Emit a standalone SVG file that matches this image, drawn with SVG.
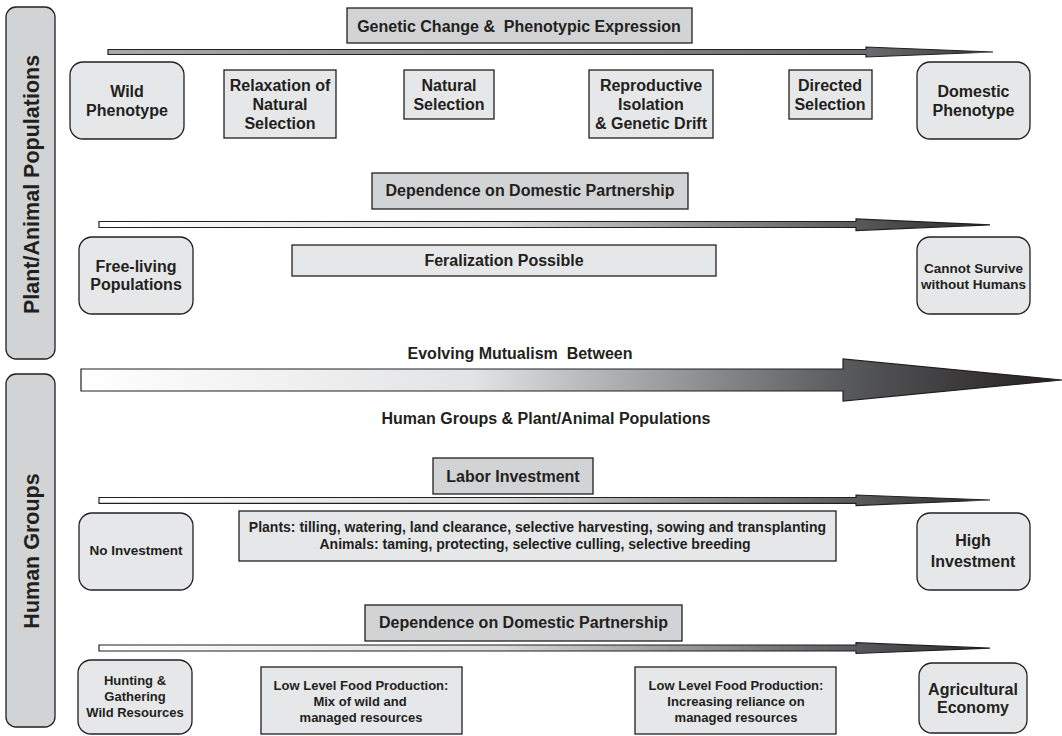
<svg xmlns="http://www.w3.org/2000/svg" width="1062" height="736" viewBox="0 0 1062 736">
  <defs>
    <style>
      text { font-family: "Liberation Sans", Arial, sans-serif; font-weight: bold; fill: #231f20; text-anchor: middle; white-space: pre; }
      .t16 { font-size: 16px; }
      .t14 { font-size: 14px; }
      .t13 { font-size: 13px; }
      .t135 { font-size: 13.5px; }
      .side { font-size: 21.5px; }
      .bar { fill: #d1d3d4; stroke: #231f20; stroke-width: 1.3; }
      .head { fill: #d1d3d4; stroke: #231f20; stroke-width: 1.3; }
      .box { fill: #e6e7e8; stroke: #231f20; stroke-width: 1.3; }
      .arrow { stroke: #231f20; stroke-width: 1.2; stroke-linejoin: miter; }
    </style>
    <linearGradient id="gradTop" gradientUnits="userSpaceOnUse" x1="108" y1="0" x2="993" y2="0">
      <stop offset="0" stop-color="#a7a9ac"/>
      <stop offset="0.85" stop-color="#6d6e71"/>
      <stop offset="1" stop-color="#3a3a3a"/>
    </linearGradient>
    <linearGradient id="gradThin" gradientUnits="userSpaceOnUse" x1="99" y1="0" x2="990" y2="0">
      <stop offset="0" stop-color="#ffffff"/>
      <stop offset="0.45" stop-color="#d9dadb"/>
      <stop offset="0.85" stop-color="#58595b"/>
      <stop offset="1" stop-color="#2b2b2b"/>
    </linearGradient>
    <linearGradient id="gradBig" gradientUnits="userSpaceOnUse" x1="81" y1="0" x2="1062" y2="0">
      <stop offset="0" stop-color="#ffffff"/>
      <stop offset="0.4" stop-color="#e2e3e4"/>
      <stop offset="0.78" stop-color="#58595b"/>
      <stop offset="1" stop-color="#231f20"/>
    </linearGradient>
  </defs>

  <rect width="1062" height="736" fill="#ffffff"/>

  <!-- side category bars -->
  <g id="side-plant-animal">
    <rect class="bar" x="6" y="7" width="49" height="352" rx="10"/>
    <text class="side" transform="translate(39,184.5) rotate(-90)">Plant/Animal Populations</text>
  </g>
  <g id="side-human">
    <rect class="bar" x="6" y="374" width="49" height="353" rx="10"/>
    <text class="side" transform="translate(39,551) rotate(-90)">Human Groups</text>
  </g>

  <!-- connectors: gradient arrows -->
  <g id="connectors">
    <polygon class="arrow" fill="url(#gradTop)" points="108,49.5 866,49.5 866,47 993,52 866,57 866,54.5 108,54.5"/>
    <polygon class="arrow" fill="url(#gradThin)" points="99,221.5 856,221.5 856,219 990,224.8 856,230.5 856,227.5 99,227.5"/>
    <polygon class="arrow" fill="url(#gradBig)" points="81,369 843,369 843,359 1062,380 843,401 843,391 81,391"/>
    <polygon class="arrow" fill="url(#gradThin)" points="99,497.5 856,497.5 856,495 990,500 856,505.5 856,503.3 99,503.3"/>
    <polygon class="arrow" fill="url(#gradThin)" points="99,645 856,645 856,642.7 990,648.2 856,653.5 856,651 99,651"/>
  </g>

  <!-- row 1: genetic change -->
  <g id="hdr-genetic">
    <rect class="head" x="347" y="8" width="345" height="35"/>
    <text class="t16" x="519" y="31.5">Genetic Change &amp;  Phenotypic Expression</text>
  </g>
  <g id="wild-phenotype">
    <rect class="box" x="70" y="62" width="114" height="77" rx="13"/>
    <text class="t16" x="127" y="96.5">Wild</text>
    <text class="t16" x="127" y="115.5">Phenotype</text>
  </g>
  <g id="relaxation">
    <rect class="box" x="224" y="70" width="112" height="68"/>
    <text class="t16" x="280" y="91">Relaxation of</text>
    <text class="t16" x="280" y="110">Natural</text>
    <text class="t16" x="280" y="129">Selection</text>
  </g>
  <g id="natural-selection">
    <rect class="box" x="404" y="70" width="90" height="49"/>
    <text class="t16" x="449" y="91">Natural</text>
    <text class="t16" x="449" y="110">Selection</text>
  </g>
  <g id="reproductive-isolation">
    <rect class="box" x="589" y="70" width="124" height="68"/>
    <text class="t16" x="651" y="91">Reproductive</text>
    <text class="t16" x="651" y="110">Isolation</text>
    <text class="t16" x="651" y="129">&amp; Genetic Drift</text>
  </g>
  <g id="directed-selection">
    <rect class="box" x="789" y="70" width="83" height="49"/>
    <text class="t16" x="830" y="91">Directed</text>
    <text class="t16" x="830" y="110">Selection</text>
  </g>
  <g id="domestic-phenotype">
    <rect class="box" x="917" y="62" width="113" height="77" rx="13"/>
    <text class="t16" x="973.5" y="96.5">Domestic</text>
    <text class="t16" x="973.5" y="115.5">Phenotype</text>
  </g>

  <!-- row 2: dependence (plants/animals) -->
  <g id="hdr-dependence-1">
    <rect class="head" x="372" y="173" width="316" height="36"/>
    <text class="t16" x="530" y="196">Dependence on Domestic Partnership</text>
  </g>
  <g id="free-living">
    <rect class="box" x="79" y="237" width="114" height="77" rx="13"/>
    <text class="t16" x="136" y="272">Free-living</text>
    <text class="t16" x="136" y="290">Populations</text>
  </g>
  <g id="feralization">
    <rect class="box" x="292" y="245" width="424" height="31"/>
    <text class="t16" x="504" y="266">Feralization Possible</text>
  </g>
  <g id="cannot-survive">
    <rect class="box" x="917" y="237" width="113" height="77" rx="13"/>
    <text class="t135" x="973.5" y="272.5">Cannot Survive</text>
    <text class="t135" x="973.5" y="288.5">without Humans</text>
  </g>

  <!-- mutualism labels -->
  <g id="mutualism">
    <text class="t16" x="520" y="359">Evolving Mutualism  Between</text>
    <text class="t16" x="546" y="424">Human Groups &amp; Plant/Animal Populations</text>
  </g>

  <!-- row 3: labor investment -->
  <g id="hdr-labor">
    <rect class="head" x="433" y="458" width="160" height="36"/>
    <text class="t16" x="513" y="481.5">Labor Investment</text>
  </g>
  <g id="no-investment">
    <rect class="box" x="79" y="513" width="114" height="77" rx="13"/>
    <text class="t135" x="136" y="555">No Investment</text>
  </g>
  <g id="practices">
    <rect class="box" x="239" y="511" width="597" height="50"/>
    <text class="t14" x="537.5" y="531.5">Plants: tilling, watering, land clearance, selective harvesting, sowing and transplanting</text>
    <text class="t14" x="535" y="549">Animals: taming, protecting, selective culling, selective breeding</text>
  </g>
  <g id="high-investment">
    <rect class="box" x="917" y="513" width="113" height="77" rx="13"/>
    <text class="t16" x="973" y="546">High</text>
    <text class="t16" x="973" y="566.5">Investment</text>
  </g>

  <!-- row 4: dependence (human groups) -->
  <g id="hdr-dependence-2">
    <rect class="head" x="365" y="605" width="317" height="36"/>
    <text class="t16" x="523.5" y="628.3">Dependence on Domestic Partnership</text>
  </g>
  <g id="hunting-gathering">
    <rect class="box" x="78" y="660" width="114" height="74" rx="13"/>
    <text class="t13" x="135" y="685">Hunting &amp;</text>
    <text class="t13" x="135" y="701">Gathering</text>
    <text class="t13" x="135" y="717">Wild Resources</text>
  </g>
  <g id="low-level-mix">
    <rect class="box" x="261" y="667" width="201" height="67"/>
    <text class="t13" x="361" y="690">Low Level Food Production:</text>
    <text class="t13" x="360" y="706">Mix of wild and</text>
    <text class="t13" x="361" y="722">managed resources</text>
  </g>
  <g id="low-level-increasing">
    <rect class="box" x="635" y="667" width="201" height="67"/>
    <text class="t13" x="736" y="690">Low Level Food Production:</text>
    <text class="t13" x="736" y="706">Increasing reliance on</text>
    <text class="t13" x="736" y="722">managed resources</text>
  </g>
  <g id="agricultural-economy">
    <rect class="box" x="919" y="663" width="108" height="70" rx="13"/>
    <text class="t16" x="973" y="695">Agricultural</text>
    <text class="t16" x="973" y="713.3">Economy</text>
  </g>
</svg>
